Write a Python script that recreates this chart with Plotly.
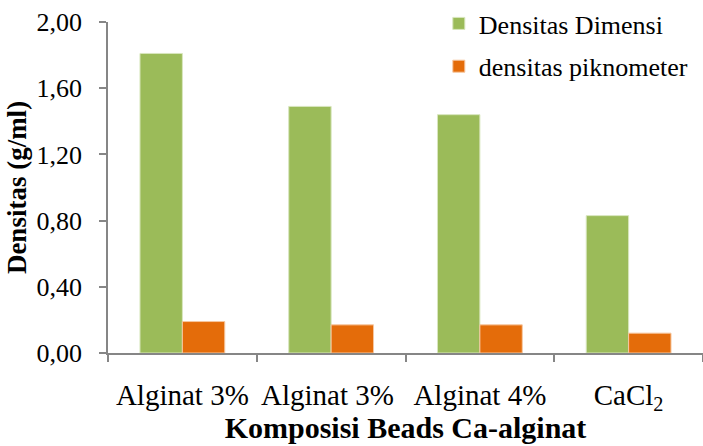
import plotly.graph_objects as go

categories = ["Alginat 3%", "Alginat 3% ", "Alginat 4%", "CaCl<sub>2</sub>"]
densitas_dimensi = [1.81, 1.49, 1.44, 0.83]
densitas_piknometer = [0.19, 0.17, 0.17, 0.12]
y_ticks = [0.0, 0.4, 0.8, 1.2, 1.6, 2.0]

FONT = "Liberation Serif"
AXIS_COLOR = "#868686"

fig = go.Figure()
fig.add_trace(go.Bar(
    x=categories, y=densitas_dimensi, name="Densitas Dimensi",
    marker=dict(color="#9BBB59", line=dict(color="#D8E6BE", width=1)),
    legendgroup="a",
))
fig.add_trace(go.Bar(
    x=categories, y=densitas_piknometer, name="densitas piknometer",
    marker=dict(color="#E46C0A", line=dict(color="#F6C7A0", width=1)),
    legendgroup="b",
))

fig.update_layout(
    width=703, height=446,
    margin=dict(l=108, r=0, t=18, b=93),
    paper_bgcolor="white", plot_bgcolor="white",
    barmode="group", bargap=0.43, bargroupgap=0,
    separators=",.",
    font=dict(family=FONT, size=26, color="black"),
    showlegend=True,
    legend=dict(
        x=0.556, y=1.067, xanchor="left", yanchor="top",
        font=dict(family=FONT, size=26, color="black"),
        traceorder="grouped", tracegroupgap=6,
        bgcolor="rgba(0,0,0,0)",
    ),
    xaxis=dict(
        type="category", automargin=False,
        showline=True, linecolor=AXIS_COLOR, linewidth=1.5,
        ticks="outside", tickson="boundaries", ticklen=7, tickcolor=AXIS_COLOR,
        tickwidth=1.5, ticklabelstandoff=15, tickangle=0,
        tickfont=dict(family=FONT, size=29, color="black"),
        showgrid=False,
        title=dict(text="<b>Komposisi Beads Ca-alginat</b>",
                   font=dict(family=FONT, size=30, color="black"), standoff=0),
    ),
    yaxis=dict(
        range=[0, 2.0], tickvals=y_ticks, tickformat=".2f", automargin=False,
        showline=True, linecolor=AXIS_COLOR, linewidth=1.5,
        ticks="outside", ticklen=7, tickcolor=AXIS_COLOR, tickwidth=1.5,
        ticklabelstandoff=12,
        tickfont=dict(family=FONT, size=26, color="black"),
        showgrid=False, zeroline=False,
        title=dict(text="<b>Densitas (g/ml)</b>",
                   font=dict(family=FONT, size=27, color="black"), standoff=2),
    ),
)

fig.write_html("out.html")
